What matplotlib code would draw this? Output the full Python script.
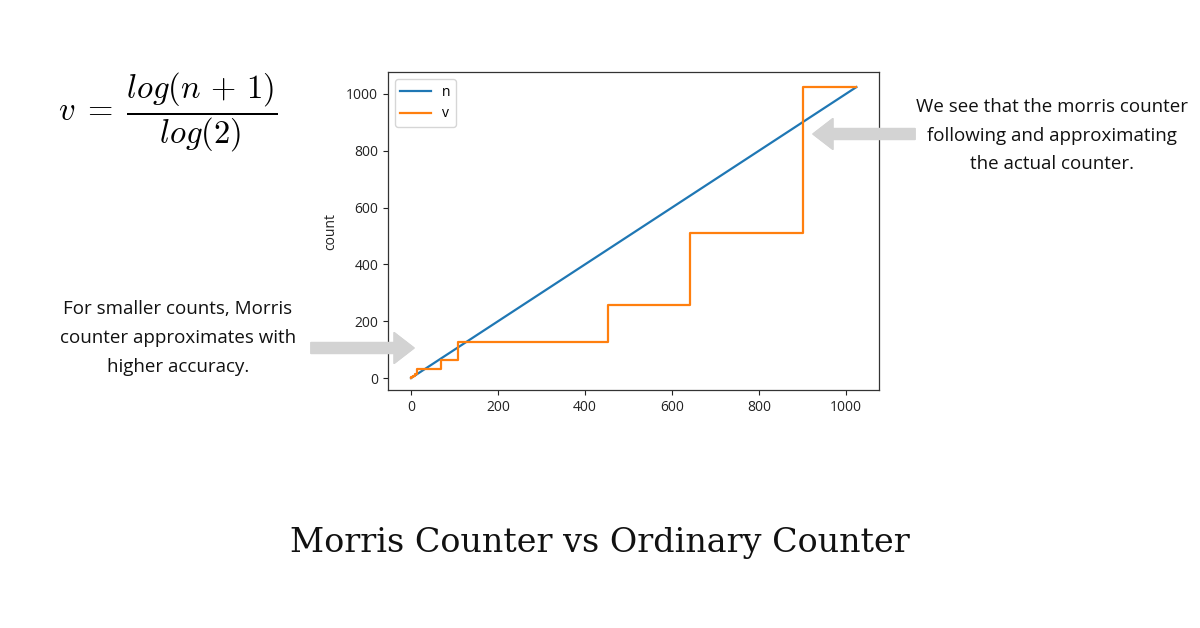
import matplotlib.pyplot as plt
import numpy as np

# actual counter n and the morris counter v (step breakpoints)
n_vals = [0, 1024]
step_n = [0, 1, 2, 4, 8, 13, 68, 108, 453, 642, 902, 1024]
step_v = [1, 2, 4, 8, 16, 32, 64, 128, 256, 512, 1024, 1024]

xticks = [0, 200, 400, 600, 800, 1000]
yticks = [0, 200, 400, 600, 800, 1000]

title = 'Morris Counter vs Ordinary Counter'
note_right = 'We see that the morris counter\nfollowing and approximating\nthe actual counter.'
note_left = 'For smaller counts, Morris\ncounter approximates with\nhigher accuracy.'

W, H = 1200, 628
fig = plt.figure(figsize=(W / 100, H / 100), dpi=100)
fig.patch.set_facecolor('white')

ax = fig.add_axes([388 / W, 1 - 390 / H, (879 - 388) / W, (390 - 72) / H])
ax.plot(n_vals, n_vals, color='#1f77b4', lw=1.6, label='n')
ax.step(step_n, step_v, where='post', color='#ff7f0e', lw=1.6, label='v')
ax.set_xlim(-53, 1076)
ax.set_ylim(-42, 1077)
ax.set_xticks(xticks)
ax.set_yticks(yticks)
ax.tick_params(labelsize=10, colors='#222222', length=3.5, width=0.8)
for lab in ax.get_xticklabels() + ax.get_yticklabels():
    lab.set_family('Open Sans')
for s in ax.spines.values():
    s.set_color('#333333')
    s.set_linewidth(0.9)
ax.set_ylabel('count', fontsize=10, family='Open Sans', color='#222222', labelpad=6)
leg = ax.legend(loc='upper left', fontsize=10, prop={'family': 'Open Sans', 'size': 10},
                handlelength=2.2, framealpha=0.8, edgecolor='#cccccc', fancybox=True)

# formula
plt.rcParams['mathtext.fontset'] = 'cm'
fig.text(168 / W, 1 - 112 / H, r'$v\;=\;\dfrac{log(n\,+\,1)}{log(2)}$', fontsize=23.5,
         ha='center', va='center')

# notes
fig.text(1052 / W, 1 - 136 / H, note_right, fontsize=13.5, family='Open Sans',
         ha='center', va='center', linespacing=1.75, color='#111111')
fig.text(178 / W, 1 - 338 / H, note_left, fontsize=13.5, family='Open Sans',
         ha='center', va='center', linespacing=1.75, color='#111111')

# grey arrows
arrow_style = 'simple,head_width=1.7,head_length=1.1,tail_width=0.6'
fig.add_artist(plt.annotate('', xy=(813, H - 134), xytext=(915, H - 134),
                            xycoords='figure pixels', textcoords='figure pixels',
                            arrowprops=dict(arrowstyle=arrow_style, color='#d3d3d3',
                                            mutation_scale=13, shrinkA=0, shrinkB=0)))
fig.add_artist(plt.annotate('', xy=(414, H - 348), xytext=(311, H - 348),
                            xycoords='figure pixels', textcoords='figure pixels',
                            arrowprops=dict(arrowstyle=arrow_style, color='#d3d3d3',
                                            mutation_scale=13, shrinkA=0, shrinkB=0)))

fig.text(600 / W, 1 - 543 / H, title, fontsize=24, family='DejaVu Serif',
         ha='center', va='center', color='#111111')

fig.savefig('out.png', dpi=100, facecolor='white')
